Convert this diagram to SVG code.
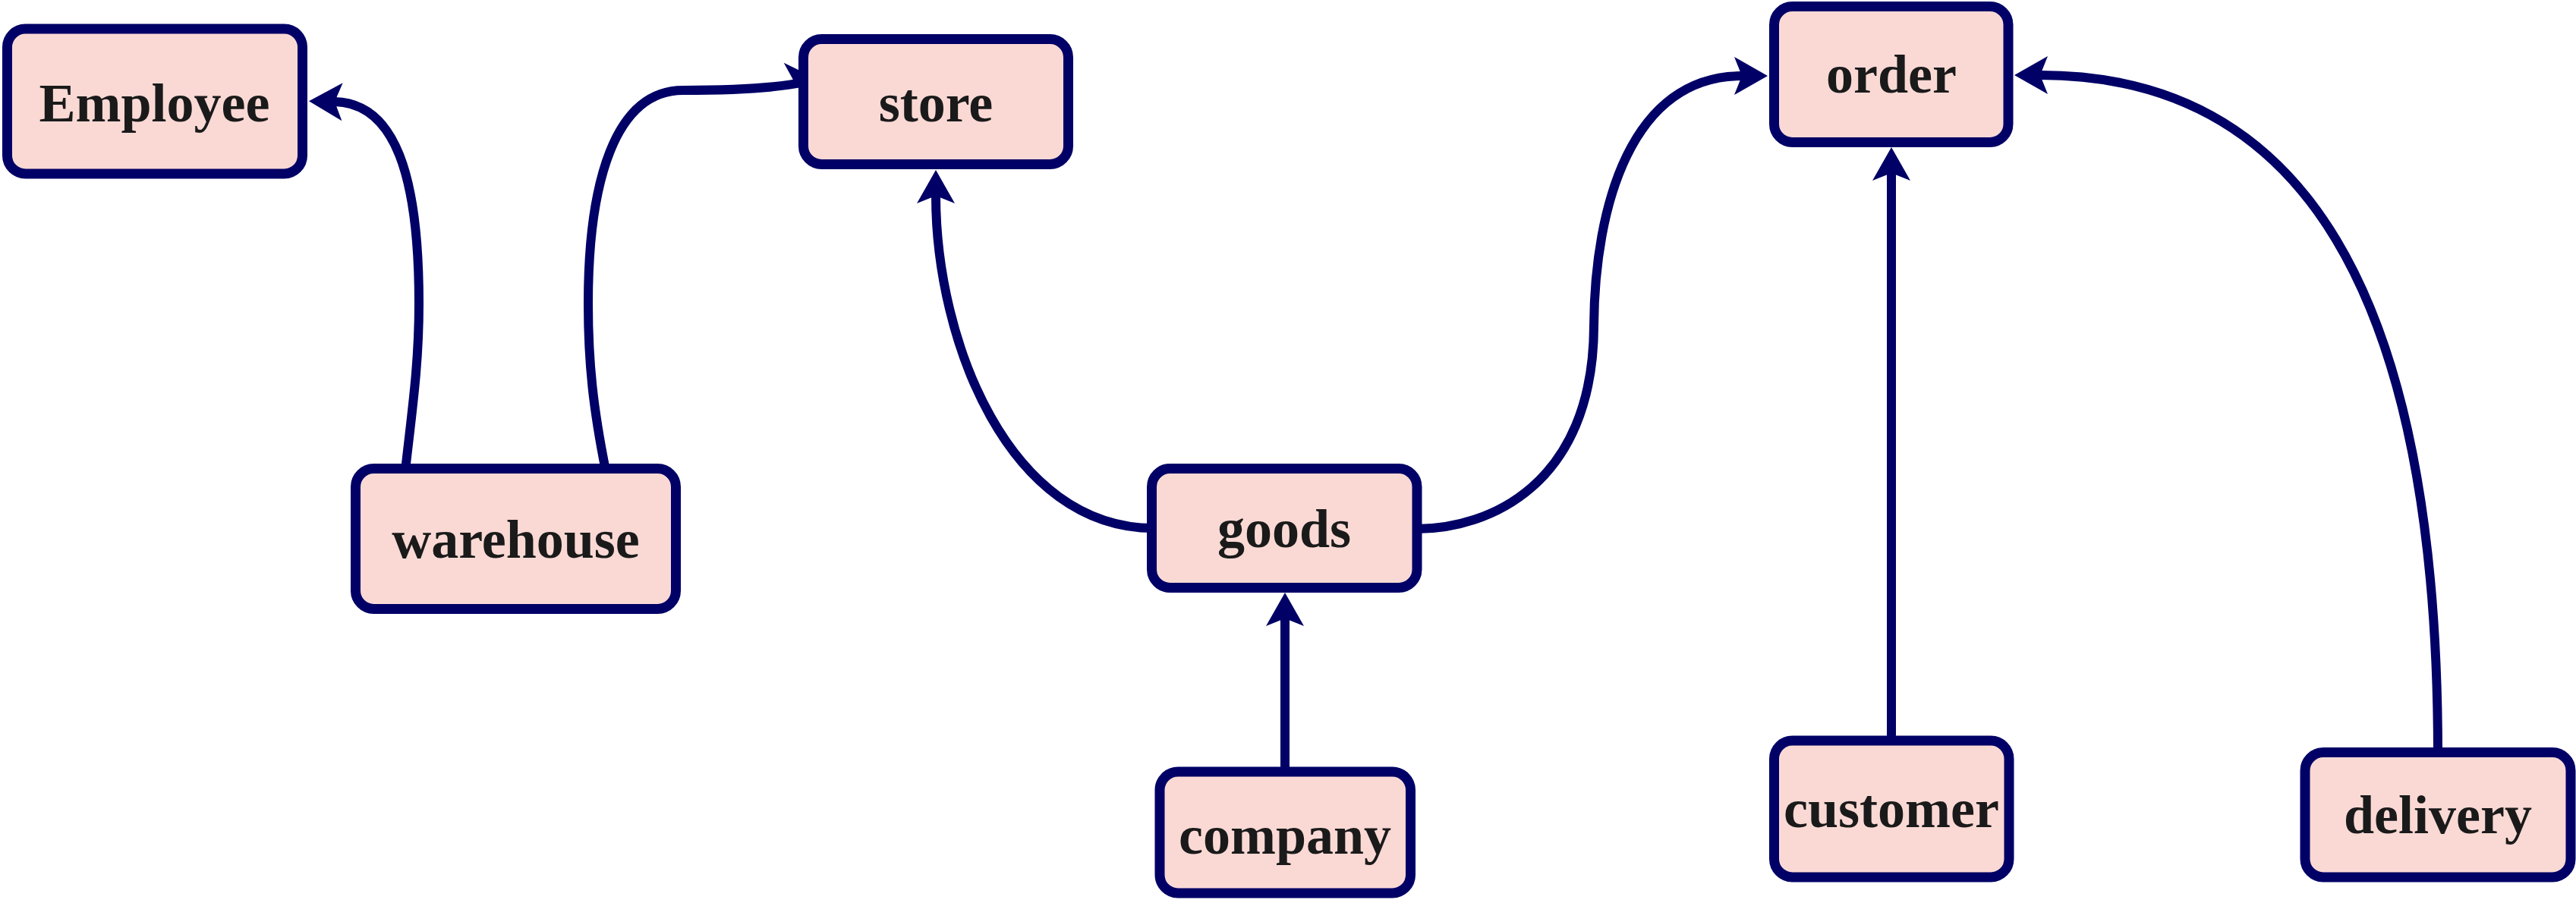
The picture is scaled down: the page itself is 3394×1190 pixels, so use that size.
<svg xmlns="http://www.w3.org/2000/svg" width="3394" height="1190" viewBox="0 0 3394 1190">
  <style>
    .node rect { fill: #FAD9D5; stroke: #000066; stroke-width: 13; }
    .node text { font-family: "Liberation Serif", "Times New Roman", serif; font-weight: bold; font-size: 72px; fill: #1a1a1a; text-anchor: middle; }
    .edge { fill: none; stroke: #000066; stroke-width: 12; }
    .edge.arrow { marker-end: url(#arr); }
  </style>
  <defs>
    <marker id="arr" markerUnits="userSpaceOnUse" viewBox="-12 -26 48 52" refX="0" refY="0" markerWidth="48" markerHeight="52" orient="auto" overflow="visible">
      <path d="M34,0 L-10,-25 L0,0 L-10,25 Z" fill="#000066"/>
    </marker>
  </defs>
  <rect width="3394" height="1190" fill="#ffffff"/>
  <g id="connectors">
    <path id="e-warehouse-employee" class="edge arrow" d="M534,620 C543,540 552,480 552,400 C552,230 520,136 441,134"/>
    <path id="e-warehouse-store" class="edge" d="M798,620 C782,540 775,480 775,400 C775,240 810,119 900,119 C960,119 1020,117 1060,108"/>
    <polygon id="e-warehouse-store-head" points="1032.7,82.7 1062,97 1062,108 1046,107" fill="#000066"/>
    <path id="e-goods-store" class="edge arrow" d="M1520,696 C1330,696 1233,450 1233,258"/>
    <path id="e-company-goods" class="edge arrow" d="M1693,1020 L1693,815"/>
    <path id="e-goods-order" class="edge arrow" d="M1867,697 C1960,697 2099,640 2100,430 C2101,270 2150,100 2295,100"/>
    <path id="e-customer-order" class="edge arrow" d="M2492,980 L2492,228"/>
    <path id="e-delivery-order" class="edge arrow" d="M3212,995 C3212,380 3030,99 2688,99"/>
  </g>
  <g id="node-employee" class="node">
    <rect x="9.5" y="38" width="389" height="191" rx="24"/>
    <text x="203.5" y="160">Employee</text>
  </g>
  <g id="node-store" class="node">
    <rect x="1058.5" y="51.5" width="349" height="165" rx="24"/>
    <text x="1233" y="160">store</text>
  </g>
  <g id="node-warehouse" class="node">
    <rect x="468.5" y="617.5" width="422" height="185" rx="24"/>
    <text x="679.5" y="735">warehouse</text>
  </g>
  <g id="node-goods" class="node">
    <rect x="1517.5" y="617.5" width="349.5" height="157" rx="24"/>
    <text x="1692" y="720.5">goods</text>
  </g>
  <g id="node-order" class="node">
    <rect x="2337.5" y="8.5" width="308.5" height="179" rx="24"/>
    <text x="2492" y="122">order</text>
  </g>
  <g id="node-company" class="node">
    <rect x="1528" y="1017" width="330.5" height="160" rx="24"/>
    <text x="1693" y="1125">company</text>
  </g>
  <g id="node-customer" class="node">
    <rect x="2337.5" y="976" width="309.5" height="180" rx="24"/>
    <text x="2492" y="1090">customer</text>
  </g>
  <g id="node-delivery" class="node">
    <rect x="3037" y="991.5" width="350" height="164.5" rx="24"/>
    <text x="3212" y="1098">delivery</text>
  </g>
</svg>
